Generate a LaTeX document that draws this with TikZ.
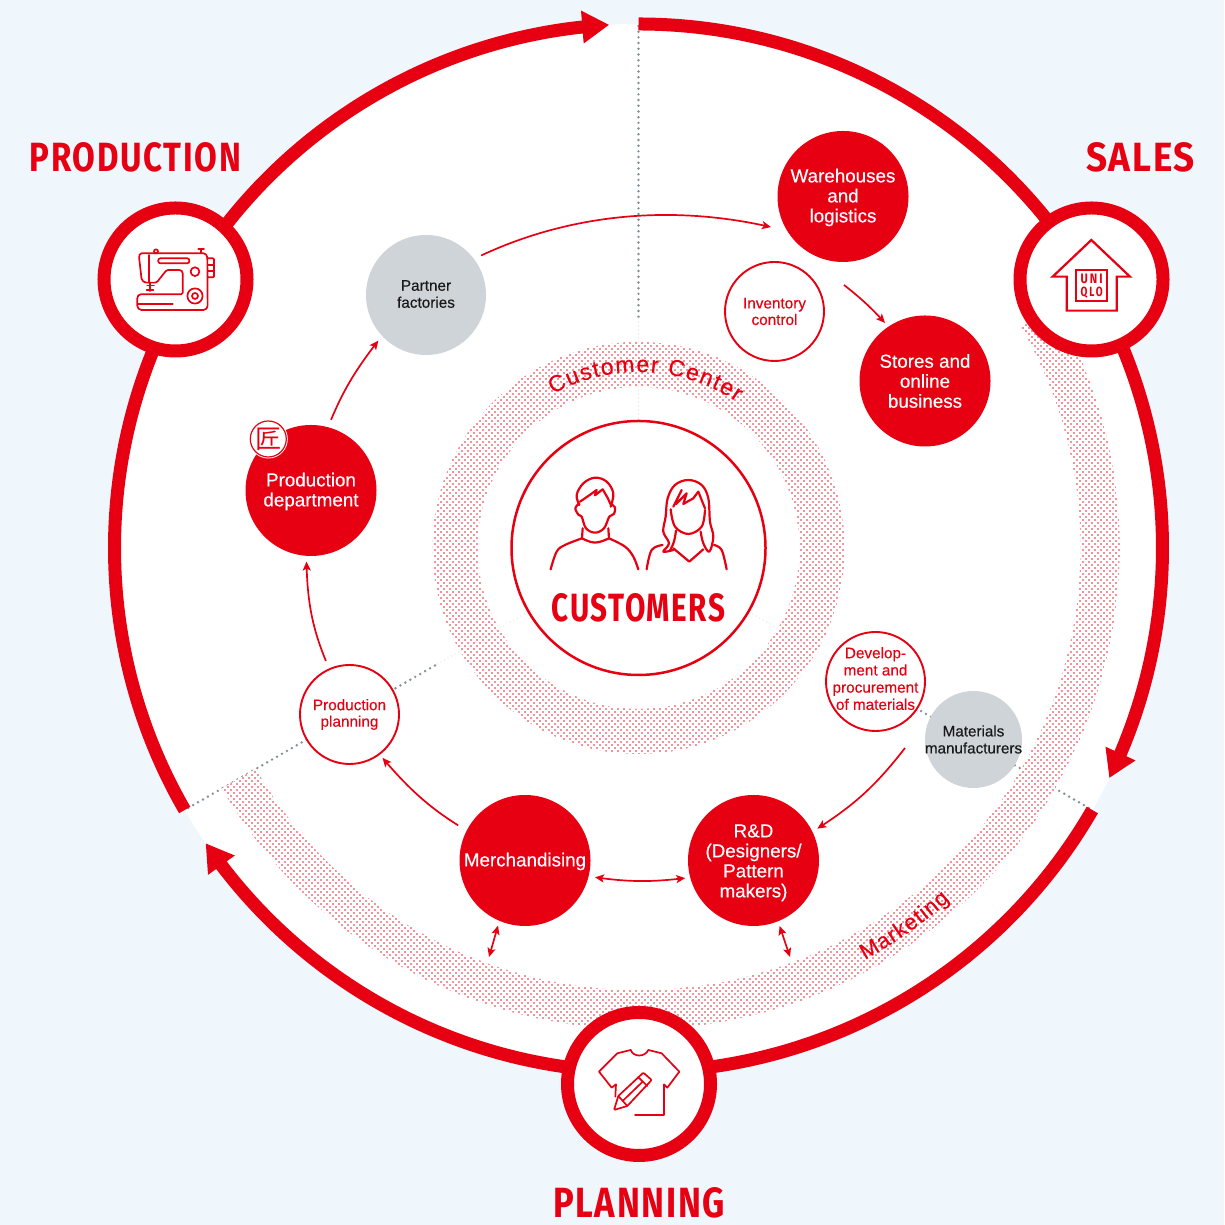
\documentclass[tikz,border=0pt]{standalone}
\usepackage{fontspec}
\setmainfont{Liberation Sans}
\newfontfamily\lab[RawFeature={embolden=0.35}]{Liberation Sans}
\newfontfamily\hd[LetterSpace=5]{Fira Sans}
\newfontfamily\hdi{Fira Sans}
\newfontfamily\cjkf{Noto Sans CJK JP}
\usetikzlibrary{arrows.meta,bending,calc,patterns.meta,decorations.text}
\definecolor{ured}{HTML}{E60012}
\definecolor{bgblue}{HTML}{EFF7FD}
\definecolor{ngray}{HTML}{CFD4D8}
\definecolor{dotgray}{HTML}{858E96}
\definecolor{dotfaint}{HTML}{DADDE0}
\pgfdeclarelayer{bg}
\pgfsetlayers{bg,main}
\newcommand{\headlbl}[3]{\resizebox{#1pt}{#2pt}{\hd\bfseries #3}}
\newcommand{\lwr}[1]{\rule{0pt}{#1pt}}
\tikzset{
  redbig/.style={circle,fill=ured,text=white,minimum size=131pt,inner sep=-10pt,outer sep=0pt,align=center,font=\lab\fontsize{18.8}{20}\selectfont},
  outl/.style={circle,draw=ured,line width=1.9pt,fill=white,text=ured,minimum size=99pt,inner sep=-12pt,outer sep=0pt,align=center,font=\lab\fontsize{15.3}{16.5}\selectfont},
  grayn/.style={circle,fill=ngray,text=black!90,inner sep=-12pt,outer sep=0pt,align=center,font=\lab\fontsize{15.2}{17}\selectfont},
  iconc/.style={circle,draw=ured,line width=13pt,fill=white,minimum size=143pt,inner sep=0pt,outer sep=0pt},
  ring/.style={draw=ured,line width=13pt,line cap=butt},
  ringtip/.style={ring,-{Triangle[length=27pt,width=31pt,sep=0pt]}},
  conn/.style={draw=ured,line width=1.7pt,-{Stealth[length=9pt,width=8pt,inset=2pt]}},
  conn2/.style={draw=ured,line width=1.7pt,{Stealth[length=9pt,width=8pt,inset=2pt]}-{Stealth[length=9pt,width=8pt,inset=2pt]}},
  dots/.style={dotgray,line width=2.7pt,line cap=round,dash pattern=on 0pt off 5.7pt},
  fdots/.style={dotfaint,line width=1.2pt,line cap=round,dash pattern=on 0pt off 4pt},
  halftone/.style={pattern={Dots[radius=1.03pt,distance=4.2426pt,angle=45]},pattern color=ured},
  icon/.style={draw=ured,line width=1.7pt,line join=round,line cap=round},
  person/.style={draw=ured,line width=2.2pt,line join=round,line cap=round},
  title/.style={text=ured,inner sep=0pt,outer sep=0pt},
}
\begin{document}
\begin{tikzpicture}[x=1pt,y=1pt]
\useasboundingbox (0,0) rectangle (1224,1225);
\coordinate (C) at (638.5,677);
% nodes
\node[circle,draw=ured,line width=2.5pt,fill=white,minimum size=254pt,inner sep=0pt,outer sep=0pt] (cust) at (638.5,677) {};
\node[title] (custlabel) at (638.5,617) {\headlbl{173}{28}{CUSTOMERS}};
\node[redbig] (wh) at (843,1028.5) {\lwr{15.6}Warehouses\\and\\logistics};
\node[redbig] (st) at (925,844) {Stores and\\online\\business};
\node[outl] (inv) at (774.5,913.5) {Inventory\\control};
\node[grayn,minimum size=120pt,font=\lab\fontsize{15.3}{17}\selectfont] (pf) at (426,930) {Partner\\factories\rule[-2pt]{0pt}{0pt}};
\node[redbig] (pd) at (311,734.5) {\lwr{15.6}Production\\department};
\node[circle,fill=white,minimum size=39pt,inner sep=0pt] (takumiw) at (268.3,786) {};
\node[circle,draw=ured,line width=1.2pt,minimum size=36pt,inner sep=-4pt,text=ured,font=\cjkf\fontsize{26}{26}\selectfont] (takumi) at (268.3,786) {匠};
\node[outl] (pp) at (349.5,510.5) {Production\\planning};
\node[redbig] (mer) at (525,364.5) {\lwr{15.6}Merchandising};
\node[redbig] (rd) at (753.5,364.5) {\lwr{17.6}R\&D\\(Designers/\\Pattern\\makers)};
\node[grayn,minimum size=97pt] (mat) at (973.5,485.5) {Materials\\manufacturers};
\node[outl,font=\lab\fontsize{15.3}{17.2}\selectfont] (dev) at (875.5,543.5) {Develop-\\ment and\\procurement\\of materials\rule[-6pt]{0pt}{0pt}};
\node[iconc] (prod) at (175.5,945.5) {};
\node[iconc] (sales) at (1091.5,945.5) {};
\node[iconc] (plan) at (639,141) {};
\node[title] (prodlbl) at (135.5,1067.5) {\headlbl{211}{29}{PRODUCTION}};
\node[title] (saleslbl) at (1140.5,1067.5) {\headlbl{109}{29}{SALES}};
\node[title] (planlbl) at (639,22) {\headlbl{172}{30}{PLANNING}};
% free ends
\coordinate (wh-o) at ($(wh.south)+(1,-23)$);
\coordinate (dev-o) at (905,477);
\coordinate (mk-l) at (489,268);
\coordinate (mk-r) at (790,268);
% background layer
\begin{pgfonlayer}{bg}
\fill[bgblue] (0,0) rectangle (1224,1225);
\fill[white] (C) circle[radius=524];
% dotted radial lines
\draw[dots] ([shift={(90:522)}]C) -- ([shift={(90:230)}]C);
\draw[dots] ([shift={(210:520)}]C) -- ([shift={(210:232)}]C);
\draw[dots] ([shift={(-30:520)}]C) -- ([shift={(-30:232)}]C);
\draw[fdots] ([shift={(90:230)}]C) -- ([shift={(90:128)}]C);
\draw[fdots] ([shift={(210:232)}]C) -- ([shift={(210:128)}]C);
\draw[fdots] ([shift={(-30:232)}]C) -- ([shift={(-30:128)}]C);
% halftone bands
\path[halftone,even odd rule] (C) circle[radius=206] (C) circle[radius=161];
\fill[white] ([shift={(30:442)}]C) arc[start angle=30,end angle=-150,radius=442] -- ([shift={(-150:481)}]C) arc[start angle=-150,end angle=30,radius=481] -- cycle;
\path[halftone] ([shift={(30:442)}]C) arc[start angle=30,end angle=-150,radius=442] -- ([shift={(-150:481)}]C) arc[start angle=-150,end angle=30,radius=481] -- cycle;
% outer ring
\draw[ringtip] (prod.center) -- ([shift={(145:524)}]C) arc[start angle=145,end angle=93.2,radius=524];
\draw[ring] ([shift={(90:524)}]C) arc[start angle=90,end angle=32,radius=524] -- (sales.center);
\draw[ringtip] (sales.center) -- ([shift={(28:524)}]C) arc[start angle=28,end angle=-26.05,radius=524];
\draw[ring] ([shift={(-30:524)}]C) arc[start angle=-30,end angle=-85,radius=524] -- (plan.center);
\draw[ringtip] (plan.center) -- ([shift={(-95:524)}]C) arc[start angle=-95,end angle=-145.7,radius=524];
\draw[ring] ([shift={(210:524)}]C) arc[start angle=210,end angle=152,radius=524] -- (prod.center);
\end{pgfonlayer}
% band labels
\path[decorate,decoration={text along path,text color=ured,text align={fit to path},text={|\lab\fontsize{23}{24}\selectfont|Customer Center}}] ([shift={(119.1:176)}]C) arc[start angle=119.1,end angle=56.1,radius=176];
\path[decorate,decoration={text along path,text color=ured,text align={fit to path},text={|\lab\fontsize{22}{24}\selectfont|Marketing}}] ([shift={(-61.2:470)}]C) arc[start angle=-61.2,end angle=-48.5,radius=470];
% connectors
\draw[conn,shorten <=8pt,shorten >=17pt] (pf.37) to[bend left=20,looseness=.9] (wh.212);
\draw[conn,shorten >=5pt] (wh-o) to[bend left=5] (st.124);
\draw[conn,shorten <=8pt,shorten >=6pt] (pd.75) to[bend left=8] (pf.223);
\draw[conn,shorten <=9pt,shorten >=5.7pt] (pp.114.6) to[bend left=11] (pd.266);
\draw[conn,shorten <=10pt,shorten >=5pt] (mer.153.8) to[bend left=9] (pp.-53.9);
\draw[conn2,shorten <=5pt,shorten >=6.5pt] (rd.195) to[bend left=8] (mer.-14.8);
\draw[conn,shorten >=5.8pt] (dev-o) to[bend left=10] (rd.26);
\draw[conn2,shorten <=5pt] (mer.247) -- (mk-l);
\draw[conn2,shorten <=5pt] (rd.292) -- (mk-r);
% sewing machine icon
\begin{scope}[shift={(90,1035)},x=0.3333pt,y=-0.3333pt]
\draw[icon,rounded corners=1.5pt] (165,278) -- (155,270) -- (147,200) -- (150,190) -- (345,190) -- (352,198) -- (353,352) -- (345,360) -- (150,360) -- (142,352) -- (142,320) -- (148,313) -- (278,313) -- (278,245) -- (272,240) -- (230,240) -- (210,265) -- (200,278) -- cycle;
\draw[icon,rounded corners=2pt] (205,205) rectangle (298,220);
\draw[icon] (315,245) circle[radius=4.4pt];
\draw[icon] (315,318) circle[radius=7.6pt];
\draw[icon] (315,318) circle[radius=3pt];
\draw[icon,rounded corners=1pt] (353,205) -- (372,205) -- (372,262) -- (353,262);
\draw[icon] (353,225) -- (372,225) (353,243) -- (372,243);
\draw[icon] (198,184) circle[radius=2pt];
\draw[icon] (325,178) -- (342,178) (333,178) -- (333,190);
\draw[icon] (178,195) -- (178,278);
\draw[icon] (180,278) -- (180,303) (170,300) -- (190,300) (172,287) -- (192,287);
\draw[icon] (145,342) -- (248,342);
\end{scope}
% house icon
\begin{scope}[shift={(1000,1035)},x=0.3333pt,y=-0.3333pt]
\draw[icon,line width=2.2pt,line join=miter] (274,150) -- (390,260) -- (350,260) -- (350,362) -- (200,362) -- (200,260) -- (158,260) -- cycle;
\draw[icon,line width=2.2pt,line join=miter] (228,240) rectangle (322,333);
\node[title] (uni) at (275,268) {\resizebox{22pt}{9.5pt}{\hdi\bfseries\addfontfeature{LetterSpace=18}UNI}};
\node[title] (qlo) at (275,307) {\resizebox{22pt}{9.5pt}{\hdi\bfseries\addfontfeature{LetterSpace=18}QLO}};
\end{scope}
% shirt and pencil icon
\begin{scope}[shift={(540,225)},x=0.3333pt,y=-0.3333pt]
\draw[icon] (272,150) .. controls (280,172) and (315,172) .. (325,150) -- (365,160) -- (418,215) -- (382,263) -- (372,253) -- (372,345) -- (285,345);
\draw[icon] (272,150) -- (232,160) -- (177,215) -- (215,263) -- (228,253) -- (226,290);
\draw[icon,rounded corners=1pt] (222,330) -- (235,288) -- (310,218) -- (335,240) -- (262,318) -- cycle;
\draw[icon] (295,232) -- (322,258);
\draw[icon] (248,303) -- (308,245);
\draw[icon] (235,288) -- (262,318);
\end{scope}
% people icon
\begin{scope}[shift={(500,815)},x=0.3333pt,y=-0.3333pt]
\draw[person] plot[smooth,tension=.6] coordinates {(238,285) (230,255) (250,220) (285,203) (320,215) (340,250) (332,290)};
\draw[person] (240,275) -- (265,258) -- (290,240) -- (285,256) -- (308,238) -- (322,262) -- (333,285);
\draw[person] plot[smooth,tension=.6] coordinates {(238,280) (226,295) (236,315) (245,320) (258,355) (285,368) (312,355) (328,320) (342,312) (345,292) (332,282)};
\draw[person] (248,355) -- (246,385) (325,355) -- (327,385);
\draw[person] plot[smooth,tension=.7] coordinates {(246,385) (285,398) (327,385)};
\draw[person] plot[smooth,tension=.6] coordinates {(246,385) (195,405) (170,425) (152,478)};
\draw[person] plot[smooth,tension=.6] coordinates {(327,385) (375,410) (400,440) (415,478)};
\draw[person] plot[smooth,tension=.6] coordinates {(520,420) (490,425) (507,400) (490,365) (497,320) (503,265) (525,225) (565,210) (605,225) (625,265) (630,335) (640,380) (628,425) (610,400) (602,365)};
\draw[person] plot[smooth,tension=.6] coordinates {(528,362) (522,395) (510,422)};
\draw[person] plot[smooth,tension=.6] coordinates {(512,298) (525,350) (565,372) (605,350) (615,300)};
\draw[person] (520,290) -- (545,240) (528,282) -- (560,250) -- (550,282) -- (580,265) -- (595,245) -- (615,295);
\draw[person] plot[smooth,tension=.6] coordinates {(488,405) (455,420) (440,478)};
\draw[person] plot[smooth,tension=.6] coordinates {(642,405) (665,420) (680,478)};
\draw[person] (520,415) -- (568,455) -- (610,418);
\end{scope}
\end{tikzpicture}
\end{document}
